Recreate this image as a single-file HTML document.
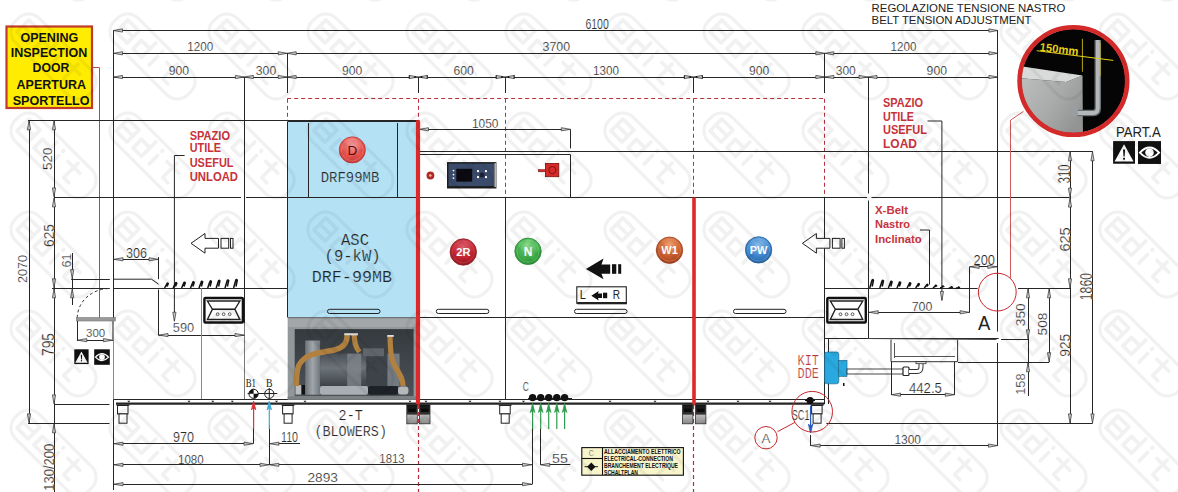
<!DOCTYPE html>
<html><head><meta charset="utf-8">
<style>html,body{margin:0;padding:0;background:#fff;width:1178px;height:492px;overflow:hidden}
svg{display:block}</style></head>
<body><svg width="1178" height="492" viewBox="0 0 1178 492">
<rect width="1178" height="492" fill="#fff"/>
<line x1="113.5" y1="30.5" x2="997.9" y2="30.5" stroke="#262626" stroke-width="1" />
<polygon points="113.50,30.50 122.50,28.90 122.50,32.10" fill="#c9c9c9" stroke="#444" stroke-width="0.8"/>
<polygon points="997.90,30.50 988.90,28.90 988.90,32.10" fill="#c9c9c9" stroke="#444" stroke-width="0.8"/>
<text x="585.4" y="29.0" font-family="Liberation Sans" font-size="13.966480446927374" font-weight="normal" fill="#262626" stroke="#fff" stroke-width="0.22" textLength="23.40" lengthAdjust="spacingAndGlyphs" >6100</text>
<line x1="113.5" y1="53.5" x2="997.9" y2="53.5" stroke="#262626" stroke-width="1" />
<polygon points="113.50,53.30 122.50,51.70 122.50,54.90" fill="#c9c9c9" stroke="#444" stroke-width="0.8"/>
<polygon points="287.20,53.30 278.20,51.70 278.20,54.90" fill="#c9c9c9" stroke="#444" stroke-width="0.8"/>
<polygon points="287.20,53.30 296.20,51.70 296.20,54.90" fill="#c9c9c9" stroke="#444" stroke-width="0.8"/>
<polygon points="824.80,53.30 815.80,51.70 815.80,54.90" fill="#c9c9c9" stroke="#444" stroke-width="0.8"/>
<polygon points="824.80,53.30 833.80,51.70 833.80,54.90" fill="#c9c9c9" stroke="#444" stroke-width="0.8"/>
<polygon points="997.90,53.30 988.90,51.70 988.90,54.90" fill="#c9c9c9" stroke="#444" stroke-width="0.8"/>
<text x="187.3" y="51.3" font-family="Liberation Sans" font-size="13.268156424581006" font-weight="normal" fill="#262626" stroke="#fff" stroke-width="0.22" textLength="26.00" lengthAdjust="spacingAndGlyphs" >1200</text>
<text x="542.6" y="51.3" font-family="Liberation Sans" font-size="13.268156424581006" font-weight="normal" fill="#262626" stroke="#fff" stroke-width="0.22" textLength="27.50" lengthAdjust="spacingAndGlyphs" >3700</text>
<text x="890.5" y="51.3" font-family="Liberation Sans" font-size="13.268156424581006" font-weight="normal" fill="#262626" stroke="#fff" stroke-width="0.22" textLength="25.90" lengthAdjust="spacingAndGlyphs" >1200</text>
<line x1="113.5" y1="77.5" x2="997.9" y2="77.5" stroke="#262626" stroke-width="1" />
<polygon points="113.50,77.00 122.50,75.40 122.50,78.60" fill="#c9c9c9" stroke="#444" stroke-width="0.8"/>
<polygon points="244.40,77.00 235.40,75.40 235.40,78.60" fill="#c9c9c9" stroke="#444" stroke-width="0.8"/>
<polygon points="244.40,77.00 253.40,75.40 253.40,78.60" fill="#c9c9c9" stroke="#444" stroke-width="0.8"/>
<polygon points="287.20,77.00 278.20,75.40 278.20,78.60" fill="#c9c9c9" stroke="#444" stroke-width="0.8"/>
<polygon points="287.20,77.00 296.20,75.40 296.20,78.60" fill="#c9c9c9" stroke="#444" stroke-width="0.8"/>
<polygon points="824.80,77.00 815.80,75.40 815.80,78.60" fill="#c9c9c9" stroke="#444" stroke-width="0.8"/>
<polygon points="824.80,77.00 833.80,75.40 833.80,78.60" fill="#c9c9c9" stroke="#444" stroke-width="0.8"/>
<polygon points="868.00,77.00 859.00,75.40 859.00,78.60" fill="#c9c9c9" stroke="#444" stroke-width="0.8"/>
<polygon points="868.00,77.00 877.00,75.40 877.00,78.60" fill="#c9c9c9" stroke="#444" stroke-width="0.8"/>
<polygon points="997.90,77.00 988.90,75.40 988.90,78.60" fill="#c9c9c9" stroke="#444" stroke-width="0.8"/>
<polygon points="418.30,77.00 409.30,75.40 409.30,78.60" fill="#c9c9c9" stroke="#444" stroke-width="0.8"/>
<polygon points="418.30,77.00 427.30,75.40 427.30,78.60" fill="#c9c9c9" stroke="#444" stroke-width="0.8"/>
<line x1="409.3" y1="75.2" x2="409.3" y2="78.8" stroke="#222" stroke-width="0.9"/>
<line x1="427.3" y1="75.2" x2="427.3" y2="78.8" stroke="#222" stroke-width="0.9"/>
<circle cx="415.1" cy="77.0" r="0.9" fill="#111"/><circle cx="421.5" cy="77.0" r="0.9" fill="#111"/>
<polygon points="505.20,77.00 496.20,75.40 496.20,78.60" fill="#c9c9c9" stroke="#444" stroke-width="0.8"/>
<polygon points="505.20,77.00 514.20,75.40 514.20,78.60" fill="#c9c9c9" stroke="#444" stroke-width="0.8"/>
<line x1="496.2" y1="75.2" x2="496.2" y2="78.8" stroke="#222" stroke-width="0.9"/>
<line x1="514.2" y1="75.2" x2="514.2" y2="78.8" stroke="#222" stroke-width="0.9"/>
<circle cx="502.0" cy="77.0" r="0.9" fill="#111"/><circle cx="508.4" cy="77.0" r="0.9" fill="#111"/>
<polygon points="693.40,77.00 684.40,75.40 684.40,78.60" fill="#c9c9c9" stroke="#444" stroke-width="0.8"/>
<polygon points="693.40,77.00 702.40,75.40 702.40,78.60" fill="#c9c9c9" stroke="#444" stroke-width="0.8"/>
<line x1="684.4" y1="75.2" x2="684.4" y2="78.8" stroke="#222" stroke-width="0.9"/>
<line x1="702.4" y1="75.2" x2="702.4" y2="78.8" stroke="#222" stroke-width="0.9"/>
<circle cx="690.1999999999999" cy="77.0" r="0.9" fill="#111"/><circle cx="696.6" cy="77.0" r="0.9" fill="#111"/>
<text x="168.8" y="75.0" font-family="Liberation Sans" font-size="13.268156424581006" font-weight="normal" fill="#262626" stroke="#fff" stroke-width="0.22" textLength="20.30" lengthAdjust="spacingAndGlyphs" >900</text>
<text x="255.8" y="75.0" font-family="Liberation Sans" font-size="13.268156424581006" font-weight="normal" fill="#262626" stroke="#fff" stroke-width="0.22" textLength="20.40" lengthAdjust="spacingAndGlyphs" >300</text>
<text x="342" y="75.0" font-family="Liberation Sans" font-size="13.268156424581006" font-weight="normal" fill="#262626" stroke="#fff" stroke-width="0.22" textLength="20.30" lengthAdjust="spacingAndGlyphs" >900</text>
<text x="453.5" y="75.0" font-family="Liberation Sans" font-size="13.268156424581006" font-weight="normal" fill="#262626" stroke="#fff" stroke-width="0.22" textLength="20.30" lengthAdjust="spacingAndGlyphs" >600</text>
<text x="593" y="75.0" font-family="Liberation Sans" font-size="13.268156424581006" font-weight="normal" fill="#262626" stroke="#fff" stroke-width="0.22" textLength="26.00" lengthAdjust="spacingAndGlyphs" >1300</text>
<text x="749.1" y="75.0" font-family="Liberation Sans" font-size="13.268156424581006" font-weight="normal" fill="#262626" stroke="#fff" stroke-width="0.22" textLength="20.20" lengthAdjust="spacingAndGlyphs" >900</text>
<text x="835.7" y="75.0" font-family="Liberation Sans" font-size="13.268156424581006" font-weight="normal" fill="#262626" stroke="#fff" stroke-width="0.22" textLength="20.10" lengthAdjust="spacingAndGlyphs" >300</text>
<text x="926.6" y="75.0" font-family="Liberation Sans" font-size="13.268156424581006" font-weight="normal" fill="#262626" stroke="#fff" stroke-width="0.22" textLength="20.40" lengthAdjust="spacingAndGlyphs" >900</text>
<line x1="113.5" y1="30.5" x2="113.5" y2="318" stroke="#262626" stroke-width="1" />
<line x1="113.5" y1="318" x2="113.5" y2="399.4" stroke="#8a8a8a" stroke-width="1" />
<line x1="997.5" y1="30.5" x2="997.5" y2="331.6" stroke="#262626" stroke-width="1" />
<line x1="997.5" y1="343" x2="997.5" y2="445.6" stroke="#262626" stroke-width="1" />
<line x1="244.5" y1="77.0" x2="244.5" y2="323" stroke="#262626" stroke-width="1" />
<line x1="244.5" y1="323" x2="244.5" y2="399.4" stroke="#7a7a7a" stroke-width="1" />
<line x1="287.5" y1="53.3" x2="287.5" y2="93" stroke="#262626" stroke-width="1" />
<line x1="418.5" y1="77.0" x2="418.5" y2="93" stroke="#262626" stroke-width="1" />
<line x1="505.5" y1="77.0" x2="505.5" y2="93" stroke="#262626" stroke-width="1" />
<line x1="693.5" y1="77.0" x2="693.5" y2="93" stroke="#262626" stroke-width="1" />
<line x1="824.5" y1="53.3" x2="824.5" y2="93" stroke="#262626" stroke-width="1" />
<line x1="868.5" y1="77.0" x2="868.5" y2="193.5" stroke="#262626" stroke-width="1" />
<line x1="868.5" y1="200.5" x2="868.5" y2="338.5" stroke="#262626" stroke-width="1" />
<line x1="287.2" y1="98.5" x2="824.8" y2="98.5" stroke="#b5303a" stroke-width="1" stroke-dasharray="4,3"/>
<line x1="287.5" y1="98.8" x2="287.5" y2="121" stroke="#b5303a" stroke-width="1" stroke-dasharray="4,3"/>
<line x1="418.5" y1="98.8" x2="418.5" y2="121" stroke="#b5303a" stroke-width="1" stroke-dasharray="4,3"/>
<line x1="505.5" y1="98.8" x2="505.5" y2="197.4" stroke="#b5303a" stroke-width="1" stroke-dasharray="4,3"/>
<line x1="693.5" y1="98.8" x2="693.5" y2="197.4" stroke="#b5303a" stroke-width="1" stroke-dasharray="4,3"/>
<line x1="824.5" y1="98.8" x2="824.5" y2="197.4" stroke="#b5303a" stroke-width="1" stroke-dasharray="4,3"/>
<line x1="418.5" y1="405" x2="418.5" y2="492" stroke="#b5303a" stroke-width="1.2" stroke-dasharray="4,3"/>
<line x1="693.5" y1="405" x2="693.5" y2="492" stroke="#b5303a" stroke-width="1.2" stroke-dasharray="4,3"/>
<rect x="6.5" y="26.5" width="85.5" height="81.5" fill="#ffec00" stroke="#c0392b" stroke-width="2.2" rx="0" />
<text x="20.4" y="42.0" font-family="Liberation Sans" font-size="13.2" font-weight="bold" fill="#111"  textLength="57.80" lengthAdjust="spacingAndGlyphs" >OPENING</text>
<text x="10.7" y="57.3" font-family="Liberation Sans" font-size="13.2" font-weight="bold" fill="#111"  textLength="76.60" lengthAdjust="spacingAndGlyphs" >INSPECTION</text>
<text x="32.6" y="72.0" font-family="Liberation Sans" font-size="13.2" font-weight="bold" fill="#111"  textLength="36.70" lengthAdjust="spacingAndGlyphs" >DOOR</text>
<text x="16.6" y="89.0" font-family="Liberation Sans" font-size="13.2" font-weight="bold" fill="#111"  textLength="69.40" lengthAdjust="spacingAndGlyphs" >APERTURA</text>
<text x="12.7" y="105.0" font-family="Liberation Sans" font-size="13.2" font-weight="bold" fill="#111"  textLength="76.90" lengthAdjust="spacingAndGlyphs" >SPORTELLO</text>
<line x1="92" y1="67.5" x2="99.3" y2="67.5" stroke="#b84848" stroke-width="1" />
<line x1="99.5" y1="67.5" x2="99.5" y2="318.8" stroke="#b84848" stroke-width="1" />
<line x1="28" y1="120.5" x2="287.2" y2="120.5" stroke="#262626" stroke-width="1" />
<line x1="287.2" y1="120.5" x2="418.3" y2="120.5" stroke="#262626" stroke-width="1" />
<rect x="287.7" y="121.5" width="129.5" height="195.8" fill="#b5e1f5" stroke="none" stroke-width="1" rx="0" />
<line x1="287.5" y1="121.5" x2="287.5" y2="317.3" stroke="#262626" stroke-width="1" />
<line x1="287.7" y1="121.5" x2="417" y2="121.5" stroke="#262626" stroke-width="1" />
<line x1="308.5" y1="123" x2="308.5" y2="197.4" stroke="#262626" stroke-width="1" />
<line x1="397.5" y1="123" x2="397.5" y2="197.4" stroke="#262626" stroke-width="1" />
<line x1="54" y1="197.5" x2="241" y2="197.5" stroke="#262626" stroke-width="1" />
<line x1="246" y1="197.5" x2="867" y2="197.5" stroke="#262626" stroke-width="1" />
<line x1="871.5" y1="197.5" x2="1069.6" y2="197.5" stroke="#262626" stroke-width="1" />
<line x1="418.3" y1="151.5" x2="1092.5" y2="151.5" stroke="#262626" stroke-width="1" />
<line x1="418.3" y1="154.5" x2="570.3" y2="154.5" stroke="#262626" stroke-width="1" />
<line x1="570.5" y1="129.3" x2="570.5" y2="148.4" stroke="#262626" stroke-width="1" />
<line x1="570.5" y1="154.5" x2="570.5" y2="197.4" stroke="#262626" stroke-width="1" />
<line x1="505.5" y1="197.4" x2="505.5" y2="399.4" stroke="#262626" stroke-width="1" />
<line x1="824.5" y1="197.4" x2="824.5" y2="404" stroke="#262626" stroke-width="1" />
<line x1="418.8" y1="129.5" x2="570.3" y2="129.5" stroke="#262626" stroke-width="1" />
<polygon points="419.50,129.30 428.50,127.70 428.50,130.90" fill="#c9c9c9" stroke="#444" stroke-width="0.8"/>
<polygon points="570.30,129.30 561.30,127.70 561.30,130.90" fill="#c9c9c9" stroke="#444" stroke-width="0.8"/>
<text x="472" y="127.5" font-family="Liberation Sans" font-size="12.849162011173185" font-weight="normal" fill="#262626" stroke="#fff" stroke-width="0.22" textLength="26.50" lengthAdjust="spacingAndGlyphs" >1050</text>
<line x1="418.5" y1="129.3" x2="418.5" y2="151.3" stroke="#262626" stroke-width="1" />
<line x1="52" y1="288.5" x2="109.8" y2="288.5" stroke="#262626" stroke-width="1" />
<line x1="113.9" y1="288.5" x2="287.3" y2="288.5" stroke="#262626" stroke-width="1" />
<line x1="71.2" y1="279.5" x2="109.8" y2="279.5" stroke="#262626" stroke-width="1" />
<polyline points="113.90,279.20 151.50,279.20 158.60,284.20" stroke="#262626" stroke-width="1" fill="none" />
<line x1="28.5" y1="120.5" x2="28.5" y2="120.5" stroke="#262626" stroke-width="1" />
<path d="M77.3,317.8 A32.5,29.5 0 0 1 109.8,288.5" fill="none" stroke="#333" stroke-width="1" stroke-dasharray="3,2.5"/>
<rect x="76.3" y="317.6" width="39" height="3.4" fill="#9a9a9a" stroke="#777" stroke-width="0.6" rx="0" />
<line x1="77.5" y1="321" x2="77.5" y2="341" stroke="#262626" stroke-width="1" />
<line x1="112.5" y1="321" x2="112.5" y2="341" stroke="#888" stroke-width="1" />
<line x1="77.3" y1="340.5" x2="112.9" y2="340.5" stroke="#262626" stroke-width="1" />
<polygon points="77.80,340.20 86.80,338.60 86.80,341.80" fill="#c9c9c9" stroke="#444" stroke-width="0.8"/>
<polygon points="112.40,340.20 103.40,338.60 103.40,341.80" fill="#c9c9c9" stroke="#444" stroke-width="0.8"/>
<text x="86" y="337.1" font-family="Liberation Sans" font-size="11.312849162011172" font-weight="normal" fill="#262626" stroke="#fff" stroke-width="0.22" textLength="19.20" lengthAdjust="spacingAndGlyphs" >300</text>
<line x1="113.5" y1="259.5" x2="158.5" y2="259.5" stroke="#262626" stroke-width="1" />
<polygon points="114.00,259.30 123.00,257.70 123.00,260.90" fill="#c9c9c9" stroke="#444" stroke-width="0.8"/>
<polygon points="158.00,259.30 149.00,257.70 149.00,260.90" fill="#c9c9c9" stroke="#444" stroke-width="0.8"/>
<line x1="158.5" y1="257" x2="158.5" y2="279.2" stroke="#262626" stroke-width="1" />
<text x="126" y="258" font-family="Liberation Sans" font-size="13.966480446927374" font-weight="normal" fill="#262626" stroke="#fff" stroke-width="0.22" textLength="21.00" lengthAdjust="spacingAndGlyphs" >306</text>
<line x1="158.5" y1="289.5" x2="158.5" y2="335.1" stroke="#262626" stroke-width="1" />
<line x1="158.5" y1="335.5" x2="244.4" y2="335.5" stroke="#262626" stroke-width="1" />
<polygon points="159.00,335.10 168.00,333.50 168.00,336.70" fill="#c9c9c9" stroke="#444" stroke-width="0.8"/>
<polygon points="244.00,335.10 235.00,333.50 235.00,336.70" fill="#c9c9c9" stroke="#444" stroke-width="0.8"/>
<text x="172.8" y="331.9" font-family="Liberation Sans" font-size="11.871508379888269" font-weight="normal" fill="#262626" stroke="#fff" stroke-width="0.22" textLength="21.30" lengthAdjust="spacingAndGlyphs" >590</text>
<line x1="201.5" y1="288.3" x2="201.5" y2="399.4" stroke="#8a8a8a" stroke-width="1" />
<polyline points="184.60,155.50 174.40,155.50 174.40,321.20" stroke="#262626" stroke-width="1" fill="none" />
<polygon points="174.40,321.20 172.80,312.20 176.00,312.20" fill="#c9c9c9" stroke="#444" stroke-width="0.8"/>
<line x1="287.7" y1="317.5" x2="824.8" y2="317.5" stroke="#262626" stroke-width="1" />
<line x1="824.8" y1="288.5" x2="977.7" y2="288.5" stroke="#262626" stroke-width="1" />
<line x1="1018" y1="288.5" x2="1071" y2="288.5" stroke="#262626" stroke-width="1" />
<line x1="824.8" y1="338.5" x2="998.7" y2="338.5" stroke="#262626" stroke-width="1" />
<line x1="828.5" y1="338.5" x2="828.5" y2="404" stroke="#262626" stroke-width="1" />
<line x1="113.5" y1="399.5" x2="824.3" y2="399.5" stroke="#262626" stroke-width="1" />
<line x1="116" y1="403.6" x2="824.3" y2="403.6" stroke="#262626" stroke-width="2.2" />
<line x1="28" y1="120.5" x2="113.5" y2="120.5" stroke="#262626" stroke-width="1" />
<line x1="29.5" y1="120.3" x2="29.5" y2="423.3" stroke="#262626" stroke-width="1" />
<polygon points="29.00,120.80 27.40,129.80 30.60,129.80" fill="#c9c9c9" stroke="#444" stroke-width="0.8"/>
<polygon points="29.00,422.80 27.40,413.80 30.60,413.80" fill="#c9c9c9" stroke="#444" stroke-width="0.8"/>
<text transform="translate(27,283) rotate(-90)" x="0" y="0" font-family="Liberation Sans" font-size="12.569832402234637" fill="#262626" stroke="#fff" stroke-width="0.22" textLength="28.00" lengthAdjust="spacingAndGlyphs">2070</text>
<line x1="54.5" y1="120.3" x2="54.5" y2="492" stroke="#262626" stroke-width="1" />
<polygon points="54.00,120.80 52.40,129.80 55.60,129.80" fill="#c9c9c9" stroke="#444" stroke-width="0.8"/>
<polygon points="54.00,196.90 52.40,187.90 55.60,187.90" fill="#c9c9c9" stroke="#444" stroke-width="0.8"/>
<polygon points="54.00,197.90 52.40,206.90 55.60,206.90" fill="#c9c9c9" stroke="#444" stroke-width="0.8"/>
<polygon points="54.00,287.80 52.40,278.80 55.60,278.80" fill="#c9c9c9" stroke="#444" stroke-width="0.8"/>
<polygon points="54.00,288.80 52.40,297.80 55.60,297.80" fill="#c9c9c9" stroke="#444" stroke-width="0.8"/>
<polygon points="54.00,403.90 52.40,394.90 55.60,394.90" fill="#c9c9c9" stroke="#444" stroke-width="0.8"/>
<polygon points="54.00,423.80 52.40,432.80 55.60,432.80" fill="#c9c9c9" stroke="#444" stroke-width="0.8"/>
<text transform="translate(52.1,170) rotate(-90)" x="0" y="0" font-family="Liberation Sans" font-size="12.98882681564246" fill="#262626" stroke="#fff" stroke-width="0.22" textLength="22.40" lengthAdjust="spacingAndGlyphs">520</text>
<text transform="translate(53.5,247) rotate(-90)" x="0" y="0" font-family="Liberation Sans" font-size="14.664804469273744" fill="#262626" stroke="#fff" stroke-width="0.22" textLength="23.00" lengthAdjust="spacingAndGlyphs">625</text>
<text transform="translate(53.5,356) rotate(-90)" x="0" y="0" font-family="Liberation Sans" font-size="16.061452513966483" fill="#262626" stroke="#fff" stroke-width="0.22" textLength="23.00" lengthAdjust="spacingAndGlyphs">795</text>
<text transform="translate(53.5,490.8) rotate(-90)" x="0" y="0" font-family="Liberation Sans" font-size="14.664804469273744" fill="#262626" stroke="#fff" stroke-width="0.22" textLength="47.10" lengthAdjust="spacingAndGlyphs">130/200</text>
<line x1="54" y1="197.5" x2="113.5" y2="197.5" stroke="#262626" stroke-width="1" />
<line x1="54.7" y1="404.5" x2="109.5" y2="404.5" stroke="#262626" stroke-width="1" />
<line x1="28" y1="423.5" x2="109.5" y2="423.5" stroke="#262626" stroke-width="1" />
<line x1="72.5" y1="253" x2="72.5" y2="305" stroke="#262626" stroke-width="1" />
<polygon points="72.20,278.70 70.60,269.70 73.80,269.70" fill="#c9c9c9" stroke="#444" stroke-width="0.8"/>
<polygon points="72.20,288.80 70.60,297.80 73.80,297.80" fill="#c9c9c9" stroke="#444" stroke-width="0.8"/>
<text transform="translate(71,267.5) rotate(-90)" x="0" y="0" font-family="Liberation Sans" font-size="12.569832402234637" fill="#262626" stroke="#fff" stroke-width="0.22" textLength="14.00" lengthAdjust="spacingAndGlyphs">61</text>
<line x1="113.5" y1="399.4" x2="113.5" y2="490" stroke="#262626" stroke-width="1" />
<line x1="253.5" y1="424.6" x2="253.5" y2="443.7" stroke="#262626" stroke-width="1" />
<line x1="269.5" y1="424.6" x2="269.5" y2="464.8" stroke="#262626" stroke-width="1" />
<line x1="113.5" y1="443.5" x2="253.4" y2="443.5" stroke="#262626" stroke-width="1" />
<polygon points="114.00,443.70 123.00,442.10 123.00,445.30" fill="#c9c9c9" stroke="#444" stroke-width="0.8"/>
<polygon points="253.00,443.70 244.00,442.10 244.00,445.30" fill="#c9c9c9" stroke="#444" stroke-width="0.8"/>
<text x="173" y="442" font-family="Liberation Sans" font-size="13.966480446927374" font-weight="normal" fill="#262626" stroke="#fff" stroke-width="0.22" textLength="21.00" lengthAdjust="spacingAndGlyphs" >970</text>
<line x1="269.4" y1="443.5" x2="300" y2="443.5" stroke="#262626" stroke-width="1" />
<polygon points="269.90,443.70 278.90,442.10 278.90,445.30" fill="#c9c9c9" stroke="#444" stroke-width="0.8"/>
<text x="281" y="442.4" font-family="Liberation Sans" font-size="14.52513966480447" font-weight="normal" fill="#262626" stroke="#fff" stroke-width="0.22" textLength="17.00" lengthAdjust="spacingAndGlyphs" >110</text>
<line x1="113.5" y1="464.5" x2="532" y2="464.5" stroke="#262626" stroke-width="1" />
<polygon points="114.00,464.80 123.00,463.20 123.00,466.40" fill="#c9c9c9" stroke="#444" stroke-width="0.8"/>
<polygon points="269.00,464.80 260.00,463.20 260.00,466.40" fill="#c9c9c9" stroke="#444" stroke-width="0.8"/>
<polygon points="269.90,464.80 278.90,463.20 278.90,466.40" fill="#c9c9c9" stroke="#444" stroke-width="0.8"/>
<polygon points="531.50,464.80 522.50,463.20 522.50,466.40" fill="#c9c9c9" stroke="#444" stroke-width="0.8"/>
<text x="178" y="463.5" font-family="Liberation Sans" font-size="13.547486033519553" font-weight="normal" fill="#262626" stroke="#fff" stroke-width="0.22" textLength="25.70" lengthAdjust="spacingAndGlyphs" >1080</text>
<text x="379.3" y="462.7" font-family="Liberation Sans" font-size="12.430167597765363" font-weight="normal" fill="#262626" stroke="#fff" stroke-width="0.22" textLength="25.40" lengthAdjust="spacingAndGlyphs" >1813</text>
<line x1="113.5" y1="484.5" x2="532" y2="484.5" stroke="#262626" stroke-width="1" />
<polygon points="114.00,484.20 123.00,482.60 123.00,485.80" fill="#c9c9c9" stroke="#444" stroke-width="0.8"/>
<polygon points="531.50,484.20 522.50,482.60 522.50,485.80" fill="#c9c9c9" stroke="#444" stroke-width="0.8"/>
<text x="307.5" y="482" font-family="Liberation Sans" font-size="12.569832402234637" font-weight="normal" fill="#262626" stroke="#fff" stroke-width="0.22" textLength="30.50" lengthAdjust="spacingAndGlyphs" >2893</text>
<line x1="532.5" y1="428.4" x2="532.5" y2="484.4" stroke="#262626" stroke-width="1" />
<line x1="540.5" y1="428.4" x2="540.5" y2="464.8" stroke="#262626" stroke-width="1" />
<line x1="540.2" y1="464.5" x2="570.3" y2="464.5" stroke="#262626" stroke-width="1" />
<polygon points="540.70,464.80 549.70,463.20 549.70,466.40" fill="#c9c9c9" stroke="#444" stroke-width="0.8"/>
<text x="552" y="462.7" font-family="Liberation Sans" font-size="13.128491620111733" font-weight="normal" fill="#262626" stroke="#fff" stroke-width="0.22" textLength="15.80" lengthAdjust="spacingAndGlyphs" >55</text>
<line x1="810.5" y1="435" x2="810.5" y2="445.6" stroke="#262626" stroke-width="1" />
<line x1="810.1" y1="445.5" x2="997.9" y2="445.5" stroke="#262626" stroke-width="1" />
<polygon points="997.40,445.60 988.40,444.00 988.40,447.20" fill="#c9c9c9" stroke="#444" stroke-width="0.8"/>
<polygon points="811.20,445.60 820.20,444.00 820.20,447.20" fill="#c9c9c9" stroke="#444" stroke-width="0.8"/>
<text x="894.5" y="443.7" font-family="Liberation Sans" font-size="12.849162011173185" font-weight="normal" fill="#262626" stroke="#fff" stroke-width="0.22" textLength="26.50" lengthAdjust="spacingAndGlyphs" >1300</text>
<line x1="826.4" y1="423.5" x2="1092.5" y2="423.5" stroke="#262626" stroke-width="1" />
<line x1="997.9" y1="151.5" x2="1092.5" y2="151.5" stroke="#262626" stroke-width="1" />
<line x1="1070.5" y1="151.3" x2="1070.5" y2="423.4" stroke="#262626" stroke-width="1" />
<polygon points="1070.00,151.80 1068.40,160.80 1071.60,160.80" fill="#c9c9c9" stroke="#444" stroke-width="0.8"/>
<polygon points="1070.00,197.10 1068.40,188.10 1071.60,188.10" fill="#c9c9c9" stroke="#444" stroke-width="0.8"/>
<polygon points="1070.00,198.10 1068.40,207.10 1071.60,207.10" fill="#c9c9c9" stroke="#444" stroke-width="0.8"/>
<polygon points="1070.00,287.80 1068.40,278.80 1071.60,278.80" fill="#c9c9c9" stroke="#444" stroke-width="0.8"/>
<polygon points="1070.00,422.90 1068.40,413.90 1071.60,413.90" fill="#c9c9c9" stroke="#444" stroke-width="0.8"/>
<text transform="translate(1069.6,183.2) rotate(-90)" x="0" y="0" font-family="Liberation Sans" font-size="16.201117318435756" fill="#262626" stroke="#fff" stroke-width="0.22" textLength="18.60" lengthAdjust="spacingAndGlyphs">310</text>
<text transform="translate(1069.6,251.6) rotate(-90)" x="0" y="0" font-family="Liberation Sans" font-size="14.106145251396649" fill="#262626" stroke="#fff" stroke-width="0.22" textLength="24.30" lengthAdjust="spacingAndGlyphs">625</text>
<text transform="translate(1069.6,356.7) rotate(-90)" x="0" y="0" font-family="Liberation Sans" font-size="14.106145251396649" fill="#262626" stroke="#fff" stroke-width="0.22" textLength="22.90" lengthAdjust="spacingAndGlyphs">925</text>
<line x1="1092.5" y1="151.3" x2="1092.5" y2="423.4" stroke="#262626" stroke-width="1" />
<polygon points="1092.50,151.80 1090.90,160.80 1094.10,160.80" fill="#c9c9c9" stroke="#444" stroke-width="0.8"/>
<polygon points="1092.50,422.90 1090.90,413.90 1094.10,413.90" fill="#c9c9c9" stroke="#444" stroke-width="0.8"/>
<text transform="translate(1092.4,300.3) rotate(-90)" x="0" y="0" font-family="Liberation Sans" font-size="16.061452513966483" fill="#262626" stroke="#fff" stroke-width="0.22" textLength="27.40" lengthAdjust="spacingAndGlyphs">1860</text>
<line x1="1028.5" y1="288.3" x2="1028.5" y2="396" stroke="#262626" stroke-width="1" />
<polygon points="1028.00,288.80 1026.40,297.80 1029.60,297.80" fill="#c9c9c9" stroke="#444" stroke-width="0.8"/>
<polygon points="1028.00,338.80 1026.40,329.80 1029.60,329.80" fill="#c9c9c9" stroke="#444" stroke-width="0.8"/>
<polygon points="1028.00,362.70 1026.40,371.70 1029.60,371.70" fill="#c9c9c9" stroke="#444" stroke-width="0.8"/>
<text transform="translate(1025.4,326.2) rotate(-90)" x="0" y="0" font-family="Liberation Sans" font-size="12.849162011173185" fill="#262626" stroke="#fff" stroke-width="0.22" textLength="22.80" lengthAdjust="spacingAndGlyphs">350</text>
<text transform="translate(1025.4,394.8) rotate(-90)" x="0" y="0" font-family="Liberation Sans" font-size="12.849162011173185" fill="#262626" stroke="#fff" stroke-width="0.22" textLength="21.30" lengthAdjust="spacingAndGlyphs">158</text>
<line x1="1049.5" y1="288.3" x2="1049.5" y2="362.2" stroke="#262626" stroke-width="1" />
<polygon points="1049.10,288.80 1047.50,297.80 1050.70,297.80" fill="#c9c9c9" stroke="#444" stroke-width="0.8"/>
<polygon points="1049.10,361.70 1047.50,352.70 1050.70,352.70" fill="#c9c9c9" stroke="#444" stroke-width="0.8"/>
<text transform="translate(1047.3,335.4) rotate(-90)" x="0" y="0" font-family="Liberation Sans" font-size="13.547486033519553" fill="#262626" stroke="#fff" stroke-width="0.22" textLength="22.90" lengthAdjust="spacingAndGlyphs">508</text>
<line x1="1001" y1="339.5" x2="1028.4" y2="339.5" stroke="#262626" stroke-width="1" />
<line x1="958" y1="362.5" x2="1049.1" y2="362.5" stroke="#262626" stroke-width="1" />
<line x1="969.6" y1="266.5" x2="997.3" y2="266.5" stroke="#262626" stroke-width="1" />
<polygon points="970.10,266.80 979.10,265.20 979.10,268.40" fill="#c9c9c9" stroke="#444" stroke-width="0.8"/>
<polygon points="996.80,266.80 987.80,265.20 987.80,268.40" fill="#c9c9c9" stroke="#444" stroke-width="0.8"/>
<text x="973.5" y="265.2" font-family="Liberation Sans" font-size="14.804469273743017" font-weight="normal" fill="#262626" stroke="#fff" stroke-width="0.22" textLength="21.40" lengthAdjust="spacingAndGlyphs" >200</text>
<line x1="969.5" y1="266.8" x2="969.5" y2="312.5" stroke="#262626" stroke-width="1" />
<line x1="868.7" y1="312.5" x2="969.6" y2="312.5" stroke="#262626" stroke-width="1" />
<polygon points="869.20,312.30 878.20,310.70 878.20,313.90" fill="#c9c9c9" stroke="#444" stroke-width="0.8"/>
<polygon points="969.10,312.30 960.10,310.70 960.10,313.90" fill="#c9c9c9" stroke="#444" stroke-width="0.8"/>
<text x="911.7" y="311.3" font-family="Liberation Sans" font-size="13.128491620111733" font-weight="normal" fill="#262626" stroke="#fff" stroke-width="0.22" textLength="20.70" lengthAdjust="spacingAndGlyphs" >700</text>
<text x="978" y="329.9" font-family="Liberation Sans" font-size="20" font-weight="normal" fill="#222"  textLength="12.30" lengthAdjust="spacingAndGlyphs" >A</text>
<polyline points="867.30,338.50 996.40,339.50" stroke="#444" stroke-width="1" fill="none" />
<circle cx="997.3" cy="292.1" r="18.9" fill="none" stroke="#c8262c" stroke-width="1"/>
<line x1="1010.5" y1="279" x2="1010.5" y2="120" stroke="#d05a5a" stroke-width="1" />
<line x1="1010.7" y1="120" x2="1023.5" y2="111.4" stroke="#d05a5a" stroke-width="1" />
<text x="189.7" y="139.5" font-family="Liberation Sans" font-size="12.2" font-weight="bold" fill="#c8323a"  textLength="40.30" lengthAdjust="spacingAndGlyphs" >SPAZIO</text>
<text x="189.7" y="152.2" font-family="Liberation Sans" font-size="12.2" font-weight="bold" fill="#c8323a"  textLength="31.30" lengthAdjust="spacingAndGlyphs" >UTILE</text>
<text x="189.7" y="166.7" font-family="Liberation Sans" font-size="12.2" font-weight="bold" fill="#c8323a"  textLength="43.80" lengthAdjust="spacingAndGlyphs" >USEFUL</text>
<text x="189.7" y="181" font-family="Liberation Sans" font-size="12.2" font-weight="bold" fill="#c8323a"  textLength="48.30" lengthAdjust="spacingAndGlyphs" >UNLOAD</text>
<text x="883" y="107" font-family="Liberation Sans" font-size="12.2" font-weight="bold" fill="#c8323a"  textLength="40.00" lengthAdjust="spacingAndGlyphs" >SPAZIO</text>
<text x="883" y="120.7" font-family="Liberation Sans" font-size="12.2" font-weight="bold" fill="#c8323a"  textLength="31.00" lengthAdjust="spacingAndGlyphs" >UTILE</text>
<text x="883" y="134.4" font-family="Liberation Sans" font-size="12.2" font-weight="bold" fill="#c8323a"  textLength="44.00" lengthAdjust="spacingAndGlyphs" >USEFUL</text>
<text x="883" y="148.2" font-family="Liberation Sans" font-size="12.2" font-weight="bold" fill="#c8323a"  textLength="34.00" lengthAdjust="spacingAndGlyphs" >LOAD</text>
<polyline points="927.50,121.00 941.90,121.00 941.90,300.40" stroke="#262626" stroke-width="1" fill="none" />
<polygon points="941.90,300.40 940.30,291.40 943.50,291.40" fill="#c9c9c9" stroke="#444" stroke-width="0.8"/>
<text x="875" y="213.8" font-family="Liberation Sans" font-size="11.8" font-weight="bold" fill="#c8323a"  textLength="33.00" lengthAdjust="spacingAndGlyphs" >X-Belt</text>
<text x="875" y="227.8" font-family="Liberation Sans" font-size="11.8" font-weight="bold" fill="#c8323a"  textLength="35.00" lengthAdjust="spacingAndGlyphs" >Nastro</text>
<text x="875" y="242.5" font-family="Liberation Sans" font-size="11.8" font-weight="bold" fill="#c8323a"  textLength="46.80" lengthAdjust="spacingAndGlyphs" >Inclinato</text>
<polyline points="920.00,230.00 929.50,230.00 929.50,284.60" stroke="#262626" stroke-width="1" fill="none" />
<text x="871.6" y="11.8" font-family="Liberation Sans" font-size="10.8" font-weight="normal" fill="#222"  textLength="193.80" lengthAdjust="spacingAndGlyphs" >REGOLAZIONE TENSIONE NASTRO</text>
<text x="871.6" y="23.9" font-family="Liberation Sans" font-size="10.8" font-weight="normal" fill="#222"  textLength="159.80" lengthAdjust="spacingAndGlyphs" >BELT TENSION ADJUSTMENT</text>
<text x="1116" y="137.3" font-family="Liberation Sans" font-size="15.2" font-weight="normal" fill="#222"  textLength="44.80" lengthAdjust="spacingAndGlyphs" >PART.A</text>
<g transform="translate(203.4,297)">
<rect x="1" y="1" width="38.5" height="24.5" fill="#fff" stroke="#111" stroke-width="2.4" rx="1" />
<path d="M4,4 L36.5,4 L31.5,12.25 L36.5,22.5 L4,22.5 L9,12.25 Z" fill="none" stroke="#222" stroke-width="1.4"/>
<line x1="9" y1="12.25" x2="31.5" y2="12.25" stroke="#222" stroke-width="1.6"/>
<circle cx="14.25" cy="17.25" r="1.4" fill="none" stroke="#333" stroke-width="0.8"/>
<circle cx="20.25" cy="17.25" r="1.4" fill="none" stroke="#333" stroke-width="0.8"/>
<circle cx="26.25" cy="17.25" r="1.4" fill="none" stroke="#333" stroke-width="0.8"/>
</g>
<g transform="translate(826.3,297)">
<rect x="1" y="1" width="38.5" height="24.5" fill="#fff" stroke="#111" stroke-width="2.4" rx="1" />
<path d="M4,4 L36.5,4 L31.5,12.25 L36.5,22.5 L4,22.5 L9,12.25 Z" fill="none" stroke="#222" stroke-width="1.4"/>
<line x1="9" y1="12.25" x2="31.5" y2="12.25" stroke="#222" stroke-width="1.6"/>
<circle cx="14.25" cy="17.25" r="1.4" fill="none" stroke="#333" stroke-width="0.8"/>
<circle cx="20.25" cy="17.25" r="1.4" fill="none" stroke="#333" stroke-width="0.8"/>
<circle cx="26.25" cy="17.25" r="1.4" fill="none" stroke="#333" stroke-width="0.8"/>
</g>
<g transform="translate(190.5,233)" fill="#fff" stroke="#222" stroke-width="1">
<path d="M0.5,10.3 L14.5,0.5 L14.5,5.4 L28,5.4 L28,15.2 L14.5,15.2 L14.5,20.2 Z"/>
<rect x="30.5" y="5.4" width="7.7" height="9.8"/>
<rect x="40" y="5.4" width="2.5" height="9.8"/>
</g>
<g transform="translate(801.9,233)" fill="#fff" stroke="#222" stroke-width="1">
<path d="M0.5,10.3 L14.5,0.5 L14.5,5.4 L28,5.4 L28,15.2 L14.5,15.2 L14.5,20.2 Z"/>
<rect x="30.5" y="5.4" width="7.7" height="9.8"/>
<rect x="40" y="5.4" width="2.5" height="9.8"/>
</g>
<g fill="#111"><path d="M585.9,268.9 L603.5,258.5 L601.5,264.6 L610.2,264.6 L610.2,273.8 L601.5,273.8 L603.5,279.3 Z"/><rect x="612" y="264.2" width="4.3" height="9.6"/><rect x="618.2" y="264.2" width="3" height="9.6"/></g>
<rect x="576.8" y="286.8" width="49.5" height="16.5" fill="#fff" stroke="#222" stroke-width="1.1" rx="0" />
<rect x="577.3" y="302" width="49.5" height="2.3" fill="#222"/>
<text x="579.8" y="298.8" font-family="Liberation Sans" font-size="12" font-weight="normal" fill="#222"  textLength="6.10" lengthAdjust="spacingAndGlyphs" >L</text>
<text x="612.7" y="298.8" font-family="Liberation Sans" font-size="12" font-weight="normal" fill="#222"  textLength="7.30" lengthAdjust="spacingAndGlyphs" >R</text>
<path d="M591.3,295.7 L598.7,290.9 L598,293.5 L602,293.5 L602,298 L598,298 L598.7,300.6 Z" fill="#111"/>
<rect x="603" y="292.7" width="4.2" height="5.5" fill="#111"/>
<rect x="327.5" y="309.3" width="52.5" height="4.2" fill="none" stroke="#222" stroke-width="1" rx="2" />
<rect x="436.3" y="309.3" width="52.5" height="4.2" fill="none" stroke="#222" stroke-width="1" rx="2" />
<rect x="574.5" y="309.3" width="52.5" height="4.2" fill="none" stroke="#222" stroke-width="1" rx="2" />
<rect x="733.5" y="309.3" width="52.5" height="4.2" fill="none" stroke="#222" stroke-width="1" rx="2" />
<defs><radialGradient id="g352" cx="0.5" cy="0.3" r="0.75"><stop offset="0" stop-color="#f4a0a0"/><stop offset="0.6" stop-color="#e9504a"/><stop offset="1" stop-color="#c23a3a"/></radialGradient></defs>
<circle cx="352.3" cy="149.9" r="13.1" fill="url(#g352)" stroke="#c23a3a" stroke-width="0.8"/>
<circle cx="352.3" cy="149.9" r="10.899999999999999" fill="none" stroke="#f4a0a0" stroke-opacity="0.5" stroke-width="0.7"/>
<text x="352.3" y="154.76" text-anchor="middle" font-family="Liberation Sans" font-size="13.5" font-weight="normal" fill="#5a0c0c">D</text>
<defs><radialGradient id="g463" cx="0.5" cy="0.3" r="0.75"><stop offset="0" stop-color="#e06070"/><stop offset="0.6" stop-color="#c0202c"/><stop offset="1" stop-color="#8a1a20"/></radialGradient></defs>
<circle cx="463.3" cy="252" r="13.2" fill="url(#g463)" stroke="#8a1a20" stroke-width="0.8"/>
<circle cx="463.3" cy="252" r="11.0" fill="none" stroke="#e06070" stroke-opacity="0.5" stroke-width="0.7"/>
<text x="463.3" y="255.96" text-anchor="middle" font-family="Liberation Sans" font-size="11" font-weight="bold" fill="#fff">2R</text>
<defs><radialGradient id="g528" cx="0.5" cy="0.3" r="0.75"><stop offset="0" stop-color="#8ee08e"/><stop offset="0.6" stop-color="#3fae4a"/><stop offset="1" stop-color="#2a8a36"/></radialGradient></defs>
<circle cx="528" cy="251.3" r="13.2" fill="url(#g528)" stroke="#2a8a36" stroke-width="0.8"/>
<circle cx="528" cy="251.3" r="11.0" fill="none" stroke="#8ee08e" stroke-opacity="0.5" stroke-width="0.7"/>
<text x="528" y="255.62" text-anchor="middle" font-family="Liberation Sans" font-size="12" font-weight="bold" fill="#fff">N</text>
<defs><radialGradient id="g669" cx="0.5" cy="0.3" r="0.75"><stop offset="0" stop-color="#f0a070"/><stop offset="0.6" stop-color="#c85a2a"/><stop offset="1" stop-color="#9a4020"/></radialGradient></defs>
<circle cx="669.5" cy="250.2" r="13.2" fill="url(#g669)" stroke="#9a4020" stroke-width="0.8"/>
<circle cx="669.5" cy="250.2" r="11.0" fill="none" stroke="#f0a070" stroke-opacity="0.5" stroke-width="0.7"/>
<text x="669.5" y="254.16" text-anchor="middle" font-family="Liberation Sans" font-size="11" font-weight="bold" fill="#fff">W1</text>
<defs><radialGradient id="g758" cx="0.5" cy="0.3" r="0.75"><stop offset="0" stop-color="#8ac0f0"/><stop offset="0.6" stop-color="#3a82cc"/><stop offset="1" stop-color="#24609a"/></radialGradient></defs>
<circle cx="758.6" cy="249.9" r="13.2" fill="url(#g758)" stroke="#24609a" stroke-width="0.8"/>
<circle cx="758.6" cy="249.9" r="11.0" fill="none" stroke="#8ac0f0" stroke-opacity="0.5" stroke-width="0.7"/>
<text x="758.6" y="253.86" text-anchor="middle" font-family="Liberation Sans" font-size="11" font-weight="bold" fill="#fff">PW</text>
<text x="320.7" y="181.5" font-family="Liberation Mono" font-size="14.2" font-weight="normal" fill="#222" stroke="#b5e1f5" stroke-width="0.22" textLength="58.60" lengthAdjust="spacingAndGlyphs" >DRF99MB</text>
<text x="341" y="244.6" font-family="Liberation Mono" font-size="17" font-weight="normal" fill="#222" stroke="#b5e1f5" stroke-width="0.22" textLength="28.00" lengthAdjust="spacingAndGlyphs" >ASC</text>
<text x="324.6" y="261" font-family="Liberation Mono" font-size="16" font-weight="normal" fill="#222" stroke="#b5e1f5" stroke-width="0.22" textLength="56.00" lengthAdjust="spacingAndGlyphs" >(9-kW)</text>
<text x="311.8" y="282" font-family="Liberation Mono" font-size="17" font-weight="normal" fill="#222" stroke="#b5e1f5" stroke-width="0.22" textLength="80.20" lengthAdjust="spacingAndGlyphs" >DRF-99MB</text>
<g transform="translate(447,162.1)"><rect x="0" y="0" width="49.4" height="26.4" fill="#1c1c1c"/><rect x="1.5" y="1.5" width="45.5" height="22.5" fill="#3b4b6c"/><rect x="47.5" y="1" width="1.3" height="24" fill="#ddd"/><rect x="9.3" y="6.7" width="15.9" height="12.8" fill="#0a0a10"/><circle cx="6.5" cy="8.5" r="0.9" fill="#fff"/><circle cx="6.5" cy="12.5" r="0.9" fill="#fff"/><circle cx="6.5" cy="16" r="0.9" fill="#fff"/><rect x="30" y="8" width="2" height="2" fill="#fff"/><rect x="30" y="14" width="2" height="2" fill="#fff"/><rect x="38" y="8" width="2" height="2" fill="#fff"/><rect x="38" y="14" width="2" height="2" fill="#fff"/><circle cx="35" cy="13" r="2.5" fill="#1a2030"/></g>
<circle cx="430.4" cy="175.5" r="3.9" fill="#b02a2a"/><circle cx="430.4" cy="175.5" r="1.2" fill="#f7c0a0"/>
<g><rect x="545.4" y="163.4" width="13.4" height="13.3" fill="#d42a2a" stroke="#7a1010" stroke-width="0.8"/><circle cx="552.4" cy="170.1" r="3.6" fill="none" stroke="#7a1010" stroke-width="0.9"/><rect x="538.4" y="169.6" width="7.2" height="2.2" fill="#d42a2a" stroke="#7a1010" stroke-width="0.5"/></g>
<path d="M164.6,288 L166.6,284.3 Q167.20000000000002,282.2 168.3,283.7 L167.0,286.5" fill="none" stroke="#111" stroke-width="1.5" stroke-linejoin="round"/>
<path d="M173.1,288 L175.1,283.85 Q175.70000000000002,281.75 176.8,283.25 L175.5,286.5" fill="none" stroke="#111" stroke-width="1.5" stroke-linejoin="round"/>
<path d="M181.6,288 L183.6,283.40000000000003 Q184.20000000000002,281.3 185.3,282.8 L184.0,286.5" fill="none" stroke="#111" stroke-width="1.5" stroke-linejoin="round"/>
<path d="M190.5,288 L192.5,282.95 Q193.10000000000002,280.84999999999997 194.20000000000002,282.34999999999997 L192.9,286.5" fill="none" stroke="#111" stroke-width="1.5" stroke-linejoin="round"/>
<path d="M199.0,288 L201.0,282.5 Q201.60000000000002,280.4 202.70000000000002,281.9 L201.4,286.5" fill="none" stroke="#111" stroke-width="1.5" stroke-linejoin="round"/>
<path d="M207.7,288 L209.7,282.05 Q210.3,279.95 211.4,281.45 L210.1,286.5" fill="none" stroke="#111" stroke-width="1.5" stroke-linejoin="round"/>
<path d="M216.2,288 L218.2,281.6 Q218.8,279.5 219.9,281.0 L218.6,286.5" fill="none" stroke="#111" stroke-width="1.5" stroke-linejoin="round"/>
<path d="M225.0,288 L227.0,281.15000000000003 Q227.60000000000002,279.05 228.70000000000002,280.55 L227.4,286.5" fill="none" stroke="#111" stroke-width="1.5" stroke-linejoin="round"/>
<path d="M233.6,288 L235.6,280.7 Q236.20000000000002,278.59999999999997 237.3,280.09999999999997 L236.0,286.5" fill="none" stroke="#111" stroke-width="1.5" stroke-linejoin="round"/>
<path d="M869.8000000000001,288 L871.8000000000001,280.8 Q872.4,278.7 873.5,280.2 L872.2,286.5" fill="none" stroke="#111" stroke-width="1.5" stroke-linejoin="round"/>
<path d="M879.8000000000001,288 L881.8000000000001,281.6 Q882.4,279.5 883.5,281.0 L882.2,286.5" fill="none" stroke="#111" stroke-width="1.5" stroke-linejoin="round"/>
<path d="M888.4000000000001,288 L890.4000000000001,282.40000000000003 Q891.0,280.3 892.1,281.8 L890.8000000000001,286.5" fill="none" stroke="#111" stroke-width="1.5" stroke-linejoin="round"/>
<path d="M897.0,288 L899.0,283.2 Q899.5999999999999,281.09999999999997 900.6999999999999,282.59999999999997 L899.4,286.5" fill="none" stroke="#111" stroke-width="1.5" stroke-linejoin="round"/>
<path d="M907.1,288 L909.1,284.0 Q909.6999999999999,281.9 910.8,283.4 L909.5,286.5" fill="none" stroke="#111" stroke-width="1.5" stroke-linejoin="round"/>
<path d="M915.7,288 L917.7,284.8 Q918.3,282.7 919.4,284.2 L918.1,286.5" fill="none" stroke="#111" stroke-width="1.5" stroke-linejoin="round"/>
<path d="M924.3000000000001,288 L926.3000000000001,285.6 Q926.9,283.5 928.0,285.0 L926.7,286.5" fill="none" stroke="#111" stroke-width="1.5" stroke-linejoin="round"/>
<path d="M932.9000000000001,288 L934.9000000000001,286.40000000000003 Q935.5,284.3 936.6,285.8 L935.3000000000001,286.5" fill="none" stroke="#111" stroke-width="1.5" stroke-linejoin="round"/>
<path d="M940.1,288 L942.1,287.2 Q942.6999999999999,285.09999999999997 943.8,286.59999999999997 L942.5,286.5" fill="none" stroke="#111" stroke-width="1.5" stroke-linejoin="round"/>
<path d="M948.7,288 L950.7,288.0 Q951.3,285.9 952.4,287.4 L951.1,286.5" fill="none" stroke="#111" stroke-width="1.5" stroke-linejoin="round"/>
<path d="M955.8000000000001,288 L957.8000000000001,288.3 Q958.4,286.2 959.5,287.7 L958.2,286.5" fill="none" stroke="#111" stroke-width="1.5" stroke-linejoin="round"/>
<g transform="translate(74.3,349.3) scale(0.9533333333333334)"><rect x="0" y="0" width="15" height="15.5" fill="#111"/><path d="M7.5,2.2 L14,14 L1,14 Z" fill="#fff"/><path d="M6.8,5.8 L8.2,5.8 L7.9,10.6 L7.1,10.6 Z" fill="#111"/><rect x="6.85" y="11.4" width="1.3" height="1.3" fill="#111"/></g>
<g transform="translate(94.2,349.3) scale(1.0)"><rect x="0" y="0" width="15.6" height="15.5" fill="#111"/><path d="M1.3,7.8 Q7.8,0.8 14.3,7.8 Q7.8,14.8 1.3,7.8 Z" fill="none" stroke="#fff" stroke-width="1.3"/><circle cx="7.8" cy="7.8" r="2.9" fill="#fff"/></g>
<g transform="translate(1113.1,141.1) scale(1.46)"><rect x="0" y="0" width="15" height="15.5" fill="#111"/><path d="M7.5,2.2 L14,14 L1,14 Z" fill="#fff"/><path d="M6.8,5.8 L8.2,5.8 L7.9,10.6 L7.1,10.6 Z" fill="#111"/><rect x="6.85" y="11.4" width="1.3" height="1.3" fill="#111"/></g>
<g transform="translate(1138,141.1) scale(1.4743589743589745)"><rect x="0" y="0" width="15.6" height="15.5" fill="#111"/><path d="M1.3,7.8 Q7.8,0.8 14.3,7.8 Q7.8,14.8 1.3,7.8 Z" fill="none" stroke="#fff" stroke-width="1.3"/><circle cx="7.8" cy="7.8" r="2.9" fill="#fff"/></g>
<defs>
<linearGradient id="cyl" x1="0" y1="0" x2="0" y2="1">
<stop offset="0" stop-color="#3a3f44"/><stop offset="0.35" stop-color="#6d7378"/><stop offset="0.6" stop-color="#4a5055"/><stop offset="1" stop-color="#2c3034"/>
</linearGradient>
<linearGradient id="pipeg" x1="0" y1="0" x2="0" y2="1">
<stop offset="0" stop-color="#9aa0a4"/><stop offset="0.5" stop-color="#c8ccce"/><stop offset="1" stop-color="#70767a"/>
</linearGradient>
<linearGradient id="footg" x1="0" y1="0" x2="0" y2="1">
<stop offset="0" stop-color="#111"/><stop offset="0.5" stop-color="#333"/><stop offset="0.55" stop-color="#bbb"/><stop offset="1" stop-color="#888"/>
</linearGradient>
</defs>
<defs><linearGradient id="fan" x1="0" y1="0" x2="1" y2="0"><stop offset="0" stop-color="#6d7479"/><stop offset="0.5" stop-color="#a0a6aa"/><stop offset="1" stop-color="#70777c"/></linearGradient><linearGradient id="mot" x1="0" y1="0" x2="0" y2="1"><stop offset="0" stop-color="#4a5056"/><stop offset="0.45" stop-color="#6c737a"/><stop offset="1" stop-color="#3c4247"/></linearGradient><linearGradient id="inner" x1="0" y1="0" x2="0" y2="1"><stop offset="0" stop-color="#353a3f"/><stop offset="1" stop-color="#4c5257"/></linearGradient></defs>
<g><rect x="287.7" y="317.3" width="128.5" height="82.1" fill="#92979a"/><rect x="288.5" y="319" width="127" height="8" fill="#a3a7a9"/><rect x="294.7" y="329.1" width="118.9" height="67.3" fill="url(#inner)"/><rect x="305.2" y="340.5" width="14.9" height="54.2" fill="url(#fan)"/><rect x="320.1" y="353.6" width="46.3" height="32.4" fill="url(#mot)"/><rect x="347.2" y="353.6" width="14" height="32.4" fill="#7e858b" opacity="0.8"/><rect x="366.4" y="353.6" width="31.5" height="32.4" fill="#3d4348"/><rect x="387.4" y="353.6" width="12.2" height="32.4" fill="#737a80"/><rect x="363" y="348.3" width="21" height="7.9" fill="#5f666b"/><rect x="320" y="386" width="48" height="8.7" rx="2" fill="#a9aeb2"/><rect x="368" y="386" width="30" height="8.7" rx="2" fill="#1e2226"/><rect x="398" y="386.5" width="10.4" height="8" rx="3" fill="#b5b9bc"/><rect x="295.5" y="385" width="6" height="9.5" fill="#b9bdc0"/><rect x="301.5" y="385" width="3.5" height="9.5" fill="#111"/><path d="M347.2,334.4 C347,343 344,347 336,349.5 C322,353 306,352 299,365 C296,372 296.5,380 296.5,386" fill="none" stroke="#b2803f" stroke-width="5.5"/><path d="M354.2,334.4 C354.5,342 355,346 359.4,352" fill="none" stroke="#b2803f" stroke-width="5.2"/><path d="M390,336 C390.5,350 390.5,360 396,368 C401,376 403,380 403.1,386" fill="none" stroke="#b2803f" stroke-width="5.2"/><rect x="344.3" y="333.2" width="6.6" height="2" fill="#ddd"/><rect x="350.9" y="333.2" width="7" height="2.2" fill="#ddd"/><rect x="387.2" y="335" width="6.6" height="1.8" fill="#ddd"/><rect x="287.7" y="396.4" width="128.5" height="3.4" fill="#7d8184"/></g>
<rect x="415.9" y="120.3" width="4.2" height="285" fill="#dc2a2a"/>
<rect x="692.2" y="197.4" width="3.6" height="208" fill="#dc2a2a"/>
<path d="M127.30000000000001,400.8 L130.3,400.8 L128.8,402.4 Z" fill="#222"/>
<path d="M187.5,400.8 L190.5,400.8 L189,402.4 Z" fill="#222"/>
<path d="M211.3,400.8 L214.3,400.8 L212.8,402.4 Z" fill="#222"/>
<path d="M230.8,400.8 L233.8,400.8 L232.3,402.4 Z" fill="#222"/>
<path d="M275.0,400.8 L278.0,400.8 L276.5,402.4 Z" fill="#222"/>
<path d="M303.5,400.8 L306.5,400.8 L305,402.4 Z" fill="#222"/>
<path d="M408.5,400.8 L411.5,400.8 L410,402.4 Z" fill="#222"/>
<path d="M424.5,400.8 L427.5,400.8 L426,402.4 Z" fill="#222"/>
<path d="M468.5,400.8 L471.5,400.8 L470,402.4 Z" fill="#222"/>
<path d="M498.5,400.8 L501.5,400.8 L500,402.4 Z" fill="#222"/>
<path d="M522.0,400.8 L525.0,400.8 L523.5,402.4 Z" fill="#222"/>
<path d="M608.5,400.8 L611.5,400.8 L610,402.4 Z" fill="#222"/>
<path d="M653.5,400.8 L656.5,400.8 L655,402.4 Z" fill="#222"/>
<path d="M706.5,400.8 L709.5,400.8 L708,402.4 Z" fill="#222"/>
<path d="M736.5,400.8 L739.5,400.8 L738,402.4 Z" fill="#222"/>
<path d="M768.5,400.8 L771.5,400.8 L770,402.4 Z" fill="#222"/>
<rect x="116.5" y="404.5" width="13" height="1.2" fill="#222" stroke="none" stroke-width="1" rx="0" />
<rect x="117.5" y="405.5" width="10.5" height="8.4" fill="#fff" stroke="#222" stroke-width="1" rx="0" />
<rect x="119.0" y="413.9" width="8" height="9.3" fill="#fff" stroke="#222" stroke-width="1" rx="0" />
<rect x="281.6" y="404.5" width="13" height="1.2" fill="#222" stroke="none" stroke-width="1" rx="0" />
<rect x="282.6" y="405.5" width="10.5" height="8.4" fill="#fff" stroke="#222" stroke-width="1" rx="0" />
<rect x="284.1" y="413.9" width="8" height="9.3" fill="#fff" stroke="#222" stroke-width="1" rx="0" />
<rect x="498.7" y="404.5" width="13" height="1.2" fill="#222" stroke="none" stroke-width="1" rx="0" />
<rect x="499.7" y="405.5" width="10.5" height="8.4" fill="#fff" stroke="#222" stroke-width="1" rx="0" />
<rect x="501.2" y="413.9" width="8" height="9.3" fill="#fff" stroke="#222" stroke-width="1" rx="0" />
<rect x="406.8" y="404.5" width="10.5" height="19.3" fill="url(#footg)" stroke="#333" stroke-width="0.8" rx="0" />
<rect x="408.3" y="408.5" width="7.5" height="3.5" fill="#0a0a0a" stroke="none" stroke-width="1" rx="0" />
<rect x="419.5" y="404.5" width="10.5" height="19.3" fill="url(#footg)" stroke="#333" stroke-width="0.8" rx="0" />
<rect x="421.0" y="408.5" width="7.5" height="3.5" fill="#0a0a0a" stroke="none" stroke-width="1" rx="0" />
<rect x="682.4" y="404.5" width="10.5" height="19.3" fill="url(#footg)" stroke="#333" stroke-width="0.8" rx="0" />
<rect x="683.9" y="408.5" width="7.5" height="3.5" fill="#0a0a0a" stroke="none" stroke-width="1" rx="0" />
<rect x="695.4" y="404.5" width="10.5" height="19.3" fill="url(#footg)" stroke="#333" stroke-width="0.8" rx="0" />
<rect x="696.9" y="408.5" width="7.5" height="3.5" fill="#0a0a0a" stroke="none" stroke-width="1" rx="0" />
<rect x="810.6" y="404.5" width="13" height="1.2" fill="#222" stroke="none" stroke-width="1" rx="0" />
<rect x="811.6" y="405.5" width="10.5" height="8.4" fill="#fff" stroke="#222" stroke-width="1" rx="0" />
<rect x="813.1" y="413.9" width="8" height="9.3" fill="#fff" stroke="#222" stroke-width="1" rx="0" />
<line x1="247.6" y1="393.5" x2="277.3" y2="393.5" stroke="#222" stroke-width="1" />
<circle cx="253.6" cy="393.8" r="4.6" fill="#fff" stroke="#111" stroke-width="1"/><path d="M249,393.8 A4.6,4.6 0 0 1 253.6,389.2 L253.6,393.8 Z M258.2,393.8 A4.6,4.6 0 0 1 253.6,398.4 L253.6,393.8 Z" fill="#111"/><circle cx="269.3" cy="393.8" r="4.6" fill="none" stroke="#222" stroke-width="1"/><line x1="269.3" y1="388" x2="269.3" y2="399.6" stroke="#222" stroke-width="1"/>
<text x="245.7" y="386.6" font-family="Liberation Serif" font-size="11.5" font-weight="normal" fill="#222"  textLength="10.30" lengthAdjust="spacingAndGlyphs" >B1</text>
<text x="266" y="386.6" font-family="Liberation Serif" font-size="11.5" font-weight="normal" fill="#222"  textLength="6.50" lengthAdjust="spacingAndGlyphs" >B</text>
<line x1="253.6" y1="404" x2="253.6" y2="429" stroke="#e0303a" stroke-width="1.2"/>
<path d="M253.6,401 L251.4,410 L253.6,407.5 L255.79999999999998,410 Z" fill="#e0303a" stroke="#e0303a" stroke-width="0.8"/>
<line x1="269.3" y1="404" x2="269.3" y2="429" stroke="#3aaad8" stroke-width="1.2"/>
<path d="M269.3,401 L267.1,410 L269.3,407.5 L271.5,410 Z" fill="#3aaad8" stroke="#3aaad8" stroke-width="0.8"/>
<text x="522.8" y="391.3" font-family="Liberation Sans" font-size="12.729050279329611" font-weight="normal" fill="#333" stroke="#fff" stroke-width="0.22" textLength="6.10" lengthAdjust="spacingAndGlyphs" >C</text>
<line x1="528" y1="398.5" x2="572" y2="398.5" stroke="#222" stroke-width="1" />
<circle cx="532.6" cy="397.6" r="3.7" fill="#111"/>
<line x1="532.6" y1="406.5" x2="532.6" y2="429" stroke="#2e9a4e" stroke-width="1.2"/>
<path d="M532.6,403.5 L530.4,412.5 L532.6,410.0 L534.8000000000001,412.5 Z" fill="#2e9a4e" stroke="#2e9a4e" stroke-width="0.8"/>
<circle cx="540.7" cy="397.6" r="3.7" fill="#111"/>
<line x1="540.7" y1="406.5" x2="540.7" y2="429" stroke="#2e9a4e" stroke-width="1.2"/>
<path d="M540.7,403.5 L538.5,412.5 L540.7,410.0 L542.9000000000001,412.5 Z" fill="#2e9a4e" stroke="#2e9a4e" stroke-width="0.8"/>
<circle cx="548.7" cy="397.6" r="3.7" fill="#111"/>
<line x1="548.7" y1="406.5" x2="548.7" y2="429" stroke="#2e9a4e" stroke-width="1.2"/>
<path d="M548.7,403.5 L546.5,412.5 L548.7,410.0 L550.9000000000001,412.5 Z" fill="#2e9a4e" stroke="#2e9a4e" stroke-width="0.8"/>
<circle cx="556.8" cy="397.6" r="3.7" fill="#111"/>
<line x1="556.8" y1="406.5" x2="556.8" y2="429" stroke="#2e9a4e" stroke-width="1.2"/>
<path d="M556.8,403.5 L554.5999999999999,412.5 L556.8,410.0 L559.0,412.5 Z" fill="#2e9a4e" stroke="#2e9a4e" stroke-width="0.8"/>
<circle cx="564.6" cy="397.6" r="3.7" fill="#111"/>
<line x1="564.6" y1="406.5" x2="564.6" y2="429" stroke="#2e9a4e" stroke-width="1.2"/>
<path d="M564.6,403.5 L562.4,412.5 L564.6,410.0 L566.8000000000001,412.5 Z" fill="#2e9a4e" stroke="#2e9a4e" stroke-width="0.8"/>
<circle cx="810.1" cy="400.5" r="3.6" fill="#111"/>
<line x1="805" y1="400.5" x2="815" y2="400.5" stroke="#111" stroke-width="1" />
<text x="791.7" y="419.7" font-family="Liberation Sans" font-size="15.258379888268157" font-weight="normal" fill="#333" stroke="#fff" stroke-width="0.22" textLength="17.80" lengthAdjust="spacingAndGlyphs" >SC1</text>
<line x1="810.6" y1="406" x2="810.6" y2="428" stroke="#2a5cc8" stroke-width="1.2"/><path d="M810.6,433 L808.4,424 L810.6,426.5 L812.8,424 Z" fill="#2a5cc8" stroke="#2a5cc8" stroke-width="0.8"/>
<circle cx="812.2" cy="411.7" r="20.3" fill="none" stroke="#c8262c" stroke-width="1"/>
<circle cx="766" cy="437.7" r="11.2" fill="none" stroke="#c8262c" stroke-width="1"/>
<line x1="777.6" y1="431.6" x2="794.9" y2="422.4" stroke="#c8262c" stroke-width="1" />
<text x="761.5" y="442.5" font-family="Liberation Sans" font-size="13.268156424581006" font-weight="normal" fill="#444" stroke="#fff" stroke-width="0.22" textLength="9.00" lengthAdjust="spacingAndGlyphs" >A</text>
<text x="797.6" y="364.6" font-family="Liberation Mono" font-size="14.245810055865922" font-weight="normal" fill="#b83838" stroke="#fff" stroke-width="0.22" textLength="21.40" lengthAdjust="spacingAndGlyphs" >KIT</text>
<text x="797.6" y="377.6" font-family="Liberation Mono" font-size="14.245810055865922" font-weight="normal" fill="#b83838" stroke="#fff" stroke-width="0.22" textLength="21.40" lengthAdjust="spacingAndGlyphs" >DDE</text>
<rect x="824.6" y="352" width="14.2" height="31.8" rx="2.5" fill="#29a9df" stroke="#1a6a90" stroke-width="0.7"/><rect x="838.5" y="360.5" width="8.5" height="15.8" fill="#29a9df" stroke="#1a6a90" stroke-width="0.7"/><rect x="843" y="383" width="1.5" height="3" fill="#111"/>
<rect x="847" y="369" width="57" height="5" fill="#fff" stroke="#333" stroke-width="0.9" rx="0" />
<rect x="903" y="367" width="6" height="8.5" fill="#fff" stroke="#222" stroke-width="1.2" rx="1" />
<path d="M909,371.5 L917,371.5 Q921,371.5 921,367 L921,363" fill="none" stroke="#333" stroke-width="5"/><path d="M909,371.5 L917,371.5 Q921,371.5 921,367 L921,363" fill="none" stroke="#fff" stroke-width="3"/><rect x="916" y="361.5" width="10" height="2.2" fill="#fff" stroke="#333" stroke-width="0.8"/>
<polyline points="891.00,339.50 891.00,361.70 957.60,361.70 957.60,339.50" stroke="#333" stroke-width="1" fill="none" />
<line x1="894.5" y1="343" x2="894.5" y2="358" stroke="#555" stroke-width="1" />
<line x1="894" y1="356.5" x2="955" y2="356.5" stroke="#555" stroke-width="1" />
<line x1="891.5" y1="361.7" x2="891.5" y2="394.7" stroke="#262626" stroke-width="1" />
<line x1="954.5" y1="361.7" x2="954.5" y2="394.7" stroke="#262626" stroke-width="1" />
<line x1="891" y1="394.5" x2="954.8" y2="394.5" stroke="#262626" stroke-width="1" />
<polygon points="891.50,394.70 900.50,393.10 900.50,396.30" fill="#c9c9c9" stroke="#444" stroke-width="0.8"/>
<polygon points="954.30,394.70 945.30,393.10 945.30,396.30" fill="#c9c9c9" stroke="#444" stroke-width="0.8"/>
<text x="908.9" y="393.3" font-family="Liberation Sans" font-size="14.106145251396649" font-weight="normal" fill="#262626" stroke="#fff" stroke-width="0.22" textLength="33.00" lengthAdjust="spacingAndGlyphs" >442.5</text>
<text x="338.6" y="419.5" font-family="Liberation Mono" font-size="14.371508379888269" font-weight="normal" fill="#222" stroke="#fff" stroke-width="0.22" textLength="24.20" lengthAdjust="spacingAndGlyphs" >2-T</text>
<text x="314.4" y="435.5" font-family="Liberation Mono" font-size="13.960893854748603" font-weight="normal" fill="#222" stroke="#fff" stroke-width="0.22" textLength="72.60" lengthAdjust="spacingAndGlyphs" >(BLOWERS)</text>
<rect x="581.8" y="447.6" width="101.6" height="27.6" fill="#f8f4cc" stroke="#111" stroke-width="1.1" rx="0" />
<line x1="602.5" y1="447.6" x2="602.5" y2="475.2" stroke="#111" stroke-width="1.1" />
<line x1="581.8" y1="458.5" x2="602.3" y2="458.5" stroke="#111" stroke-width="1.1" />
<text x="588.7" y="456.3" font-family="Liberation Sans" font-size="9.776536312849162" font-weight="normal" fill="#555" stroke="#f8f4cc" stroke-width="0.22" textLength="5.10" lengthAdjust="spacingAndGlyphs" >C</text>
<path d="M591.3,462.5 L595.5,466.7 L591.3,470.9 L587.1,466.7 Z" fill="#111"/><line x1="584.5" y1="466.7" x2="598" y2="466.7" stroke="#111" stroke-width="0.9"/>
<text x="604" y="454" font-family="Liberation Sans" font-size="7.2" font-weight="bold" fill="#111"  textLength="76.50" lengthAdjust="spacingAndGlyphs" >ALLACCIAMENTO ELETTRICO</text>
<text x="604" y="461" font-family="Liberation Sans" font-size="7.2" font-weight="bold" fill="#111"  textLength="69.00" lengthAdjust="spacingAndGlyphs" >ELECTRICAL-CONNECTION</text>
<text x="604" y="468.2" font-family="Liberation Sans" font-size="7.2" font-weight="bold" fill="#111"  textLength="74.00" lengthAdjust="spacingAndGlyphs" >BRANCHEMENT ELECTRIQUE</text>
<text x="604" y="475" font-family="Liberation Sans" font-size="7.2" font-weight="bold" fill="#111"  textLength="34.00" lengthAdjust="spacingAndGlyphs" >SCHALTPLAN</text>
<defs><clipPath id="cc"><circle cx="1073.4" cy="81" r="52"/></clipPath>
<linearGradient id="boxg" x1="0" y1="0" x2="1" y2="0.6"><stop offset="0" stop-color="#bfc1c1"/><stop offset="0.6" stop-color="#a9abab"/><stop offset="1" stop-color="#929494"/></linearGradient>
<linearGradient id="rodg" x1="0" y1="0" x2="1" y2="0"><stop offset="0" stop-color="#6a6e70"/><stop offset="0.5" stop-color="#c8cccd"/><stop offset="1" stop-color="#5a5e60"/></linearGradient>
</defs>
<g clip-path="url(#cc)"><rect x="1015" y="20" width="120" height="125" fill="#050505"/><path d="M1018,78 L1066,82 L1082.5,75.5 L1083,140 L1015,140 Z" fill="url(#boxg)"/><path d="M1020,66 L1082.5,75.5 L1066,82 L1018,78 Z" fill="#d9dbdb"/><path d="M1097.8,40 L1097.8,108 Q1097.8,113 1093,113 L1076,113" fill="none" stroke="#6a6f72" stroke-width="6.5"/><path d="M1097.8,40 L1097.8,108 Q1097.8,113 1093,113 L1076,113" fill="none" stroke="#b4b8ba" stroke-width="3.8"/><rect x="1071" y="104.5" width="7" height="12" rx="2" fill="#9a9ea0"/><line x1="1036.7" y1="50.7" x2="1113.3" y2="60.4" stroke="#e8d21a" stroke-width="1"/><line x1="1082.4" y1="38.8" x2="1082.4" y2="71.8" stroke="#e8d21a" stroke-width="0.8"/><line x1="1100" y1="42.7" x2="1100" y2="75.8" stroke="#e8d21a" stroke-width="0.8"/><text transform="translate(1039.3,50.8) rotate(7)" font-family="Liberation Sans" font-weight="bold" font-size="11.5" fill="#e8d21a" textLength="39" lengthAdjust="spacingAndGlyphs">150mm</text></g>
<circle cx="1073.4" cy="81" r="53.8" fill="none" stroke="#d42a2a" stroke-width="4.6"/>
<defs>
<pattern id="wm" patternUnits="userSpaceOnUse" width="99" height="99" x="4" y="7">
<g transform="translate(49.5,49.5) rotate(45)" fill="none" stroke="#000" stroke-opacity="0.055" stroke-width="3" stroke-linecap="round" stroke-linejoin="round">
<rect x="-52" y="-17" width="104" height="34" rx="15"/>
<g transform="scale(1.2)">
<path d="M-36,-7 h13 v14 h-13 z M-36,0 h13"/>
<path d="M-16,-3 h10 v10 h-10 z M-6,-10 v17"/>
<path d="M3,-3 v10 M3,-9 v1"/>
<path d="M12,-5 h14 M19,-10 v17 h6"/>
</g>
</g>
</pattern>
</defs>
<rect x="0" y="0" width="1178" height="492" fill="url(#wm)"/>
</svg></body></html>
